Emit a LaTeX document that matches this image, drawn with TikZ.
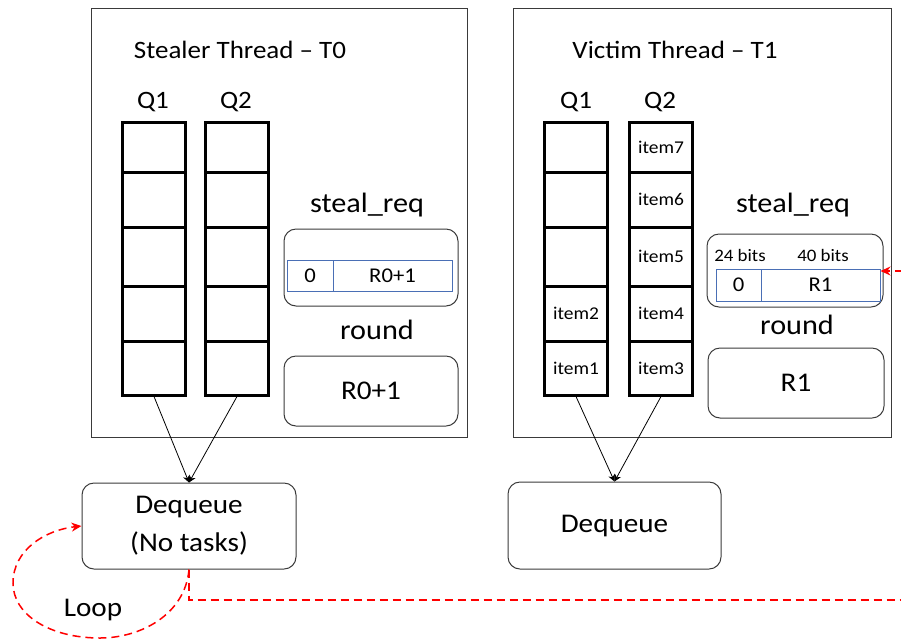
\documentclass[tikz,border=0pt]{standalone}
\usepackage{fontspec}
\setmainfont{Carlito}[FakeStretch=1.08]
\usetikzlibrary{arrows.meta,calc}
\definecolor{tblue}{HTML}{4A6FB5}
\definecolor{edge}{HTML}{3A3A3A}
\begin{document}
\begin{tikzpicture}[x=1pt,y=-1pt,
  panel/.style={draw=edge, line width=1pt, inner sep=0pt},
  cell/.style={draw=black, line width=3pt, minimum width=63pt, inner sep=0pt, font=\fontsize{18}{20}\selectfont},
  rbox/.style={draw=edge, line width=1pt, rounded corners=12pt, inner sep=0pt},
  tcell/.style={draw=tblue, line width=1pt, inner sep=0pt, font=\fontsize{21}{24}\selectfont},
  lbl/.style={font=\fontsize{25}{30}\selectfont, inner sep=0pt},
  biglbl/.style={font=\fontsize{28}{32}\selectfont, inner sep=0pt},
  small/.style={font=\fontsize{17.5}{20}\selectfont, inner sep=0pt},
  conn/.style={draw=black, line width=0.8pt, -{Stealth[length=7pt,width=7pt]}},
  redd/.style={draw=red, line width=1.5pt, dash pattern=on 8pt off 5pt}]
\useasboundingbox (0,0) rectangle (901,641);
% panels
\node[panel, minimum width=376pt, minimum height=429pt] (PL) at (279,222.5) {};
\node[panel, minimum width=378pt, minimum height=429pt] (PR) at (702,222.5) {};
\node[lbl] (TL) at (240,50) {Stealer Thread -- T0};
\node[lbl] (TR) at (675,50) {Victim Thread -- T1};
% queue labels
\node[lbl] (QL1) at (153,102) {Q1};
\node[lbl] (QL2) at (236,102) {Q2};
\node[lbl] (QR1) at (576,102) {Q1};
\node[lbl] (QR2) at (660,102) {Q2};
% stealer queues
\foreach \n/\yc/\h in {a/147/50,b/199.5/55,c/256.5/59,d/313.5/55,e/368/54}{
  \node[cell, minimum height=\h pt] (L1\n) at (154,\yc) {};
  \node[cell, minimum height=\h pt] (L2\n) at (237,\yc) {};
}
% victim queues
\node[cell, minimum height=50pt] (R1a) at (576,147) {};
\node[cell, minimum height=55pt] (R1b) at (576,199.5) {};
\node[cell, minimum height=59pt] (R1c) at (576,256.5) {};
\node[cell, minimum height=55pt] (R1d) at (576,313.5) {item2};
\node[cell, minimum height=54pt] (R1e) at (576,368) {item1};
\node[cell, minimum height=50pt] (R2a) at (661,147) {item7};
\node[cell, minimum height=55pt] (R2b) at (661,199.5) {item6};
\node[cell, minimum height=59pt] (R2c) at (661,256.5) {item5};
\node[cell, minimum height=55pt] (R2d) at (661,313.5) {item4};
\node[cell, minimum height=54pt] (R2e) at (661,368) {item3};
% steal_req
\node[biglbl] (SL) at (367,205) {steal\_req};
\node[biglbl] (SR) at (793,205) {steal\_req};
\node[rbox, minimum width=174pt, minimum height=77pt] (SBL) at (371,267.5) {};
\node[tcell, minimum width=46pt, minimum height=31pt] (LT0) at (310,275.5) {0};
\node[tcell, minimum width=119pt, minimum height=31pt] (LT1) at (392.5,275.5) {R0+1};
\node[rbox, minimum width=176pt, minimum height=73pt] (SBR) at (795,270.5) {};
\node[tcell, minimum width=45pt, minimum height=32pt] (RT0) at (738.5,285) {0};
\node[tcell, minimum width=119pt, minimum height=32pt] (RT1) at (820.5,285) {R1};
\node[small] (B24) at (740,255) {24 bits};
\node[small] (B40) at (823,255) {40 bits};
% round
\node[biglbl] (RL) at (377,330) {round};
\node[biglbl] (RR) at (797,325) {round};
\node[rbox, minimum width=174pt, minimum height=70pt, font=\fontsize{27}{30}\selectfont] (RBL) at (371,391) {R0+1};
\node[rbox, minimum width=176pt, minimum height=70pt, font=\fontsize{27}{30}\selectfont] (RBR) at (796,383) {R1};
% dequeue
\node[rbox, minimum width=214pt, minimum height=86pt, align=center, font=\fontsize{27}{38}\selectfont] (DL) at (189,526) {Dequeue\\(No tasks)};
\node[rbox, minimum width=213pt, minimum height=87pt, font=\fontsize{27}{30}\selectfont] (DR) at (614.5,525.5) {Dequeue};
% connectors
\draw[conn] (L1e.south) -- (DL.north);
\draw[conn] (L2e.south) -- (DL.north);
\draw[conn] (R1e.south) -- (DR.north);
\draw[conn] (R2e.south) -- (DR.north);
% red dashed
\coordinate (offR) at (901,600);
\coordinate (offA) at (903,271);
\draw[redd] (DL.south) |- (offR);
\draw[redd, -{Stealth[length=10pt,width=9pt]}] (DL.south) .. controls (185,615) and (140,638) .. (100,638)
  .. controls (50,638) and (13,615) .. (13,583)
  .. controls (13,550) and (45,530) .. (DL.west);
\draw[redd, -{Stealth[length=10pt,width=9pt]}] (offA) -- (offA -| RT1.east);
\node[font=\fontsize{27}{30}\selectfont, inner sep=0pt] (LP) at (93,610) {Loop};
\end{tikzpicture}
\end{document}
